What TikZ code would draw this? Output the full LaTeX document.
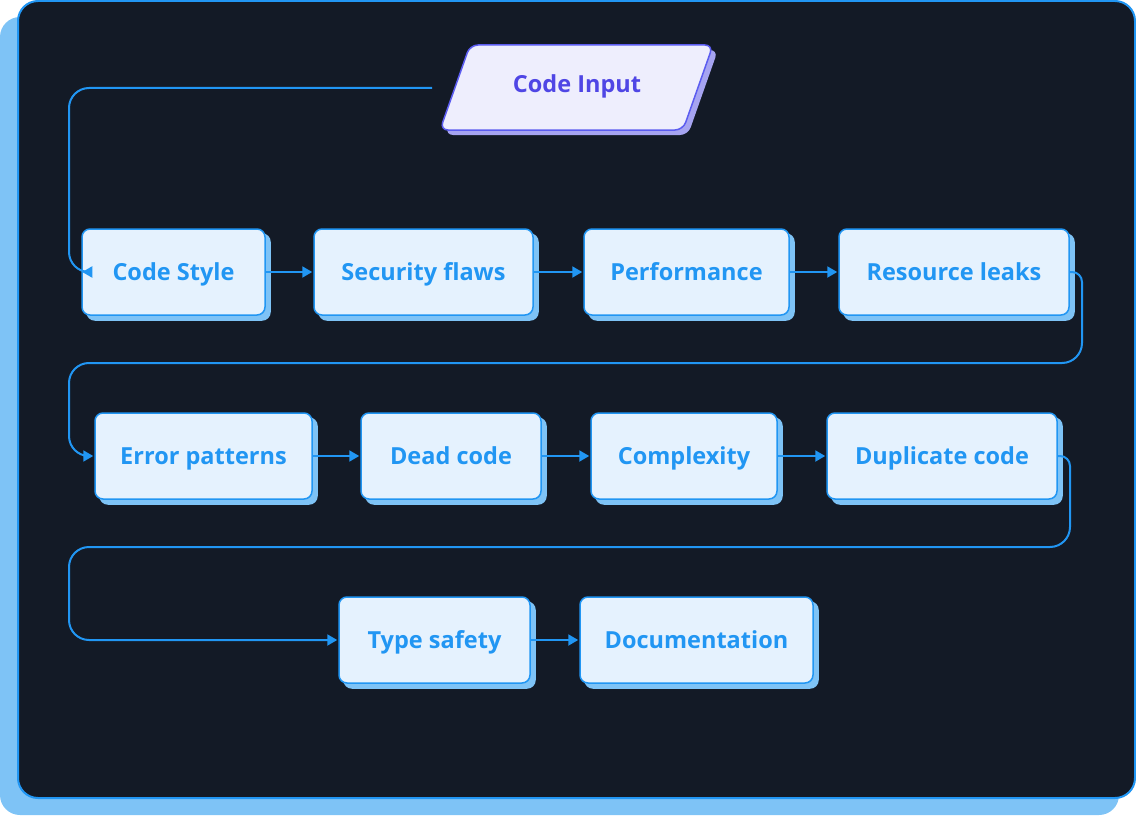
\documentclass[tikz,border=0pt]{standalone}
\usepackage{fontspec}
\setmainfont{Open Sans}
\usetikzlibrary{arrows.meta}
\definecolor{bg}{HTML}{131A26}
\definecolor{lineblue}{HTML}{2196F3}
\definecolor{panelshadow}{HTML}{7EC3F6}
\definecolor{boxfill}{HTML}{E5F2FE}
\definecolor{boxshadow}{HTML}{7EC3F6}
\definecolor{textblue}{HTML}{2196F3}
\definecolor{infill}{HTML}{EEEEFD}
\definecolor{inborder}{HTML}{5B5CF0}
\definecolor{intext}{HTML}{4F46E5}
\definecolor{inshadow}{HTML}{A6A4F1}
\tikzset{
  lbl/.style={font=\fontsize{23.5}{28}\selectfont\bfseries, text height=16.8pt, text depth=0pt},
  box/.style={lbl, draw=lineblue, fill=boxfill, line width=1.5pt, rounded corners=8pt,
    minimum height=86pt, inner sep=0pt, text=textblue,
    preaction={fill=boxshadow, draw=boxshadow, transform canvas={shift={(5pt,-5pt)}}}},
  conn/.style={draw=lineblue, line width=2pt, -{Triangle[length=10pt,width=11pt]}, shorten >=1pt},
}
\begin{document}
\begin{tikzpicture}[x=1pt,y=-1pt]
\useasboundingbox (0,0) rectangle (1136,816);
% panel
\fill[panelshadow, rounded corners=20pt] (0,17) rectangle (1119,815);
\draw[fill=bg, draw=lineblue, line width=2pt, rounded corners=20pt] (18,1) rectangle (1135,798);
% code input
\begin{scope}[shift={(5,5)}]
\fill[inshadow, rounded corners=8pt] (470,45) -- (713,45) -- (683,130) -- (440,130) -- cycle;
\end{scope}
\draw[fill=infill, draw=inborder, line width=1.5pt, rounded corners=8pt] (470,45) -- (713,45) -- (683,130) -- (440,130) -- cycle;
\node[lbl, text=intext] (input) at (577,84) {Code Input};
\coordinate (inL) at (432,88);
% row 1
\node[box, minimum width=183pt] (cs) at (173.5,272) {Code Style};
\node[box, minimum width=219pt] (sf) at (423.5,272) {Security flaws};
\node[box, minimum width=205pt] (pf) at (686.5,272) {Performance};
\node[box, minimum width=230pt] (rl) at (954,272) {Resource leaks};
% row 2
\node[box, minimum width=217pt] (ep) at (203.5,456) {Error patterns};
\node[box, minimum width=180pt] (dc) at (451,456) {Dead code};
\node[box, minimum width=186pt] (cx) at (684,456) {Complexity};
\node[box, minimum width=230pt] (du) at (942,456) {Duplicate code};
% row 3
\node[box, minimum width=191pt] (ts) at (434.5,640) {Type safety};
\node[box, minimum width=233pt] (doc) at (696.5,640) {Documentation};
% connectors
\draw[conn, rounded corners=20pt] (inL) -- (69,88) -- (69,272) [rounded corners=10pt] -- (cs.west);
\draw[conn] (cs) -- (sf);
\draw[conn] (sf) -- (pf);
\draw[conn] (pf) -- (rl);
\draw[conn, rounded corners=10pt] (rl.east) -- (1082,272) [rounded corners=20pt] -- (1082,363) -- (69,363) -- (69,456) [rounded corners=12pt] -- (ep.west);
\draw[conn] (ep) -- (dc);
\draw[conn] (dc) -- (cx);
\draw[conn] (cx) -- (du);
\draw[conn, rounded corners=10pt] (du.east) -- (1070,456) [rounded corners=20pt] -- (1070,547) -- (69,547) -- (69,640) -- (ts.west);
\draw[conn] (ts) -- (doc);
\end{tikzpicture}
\end{document}
